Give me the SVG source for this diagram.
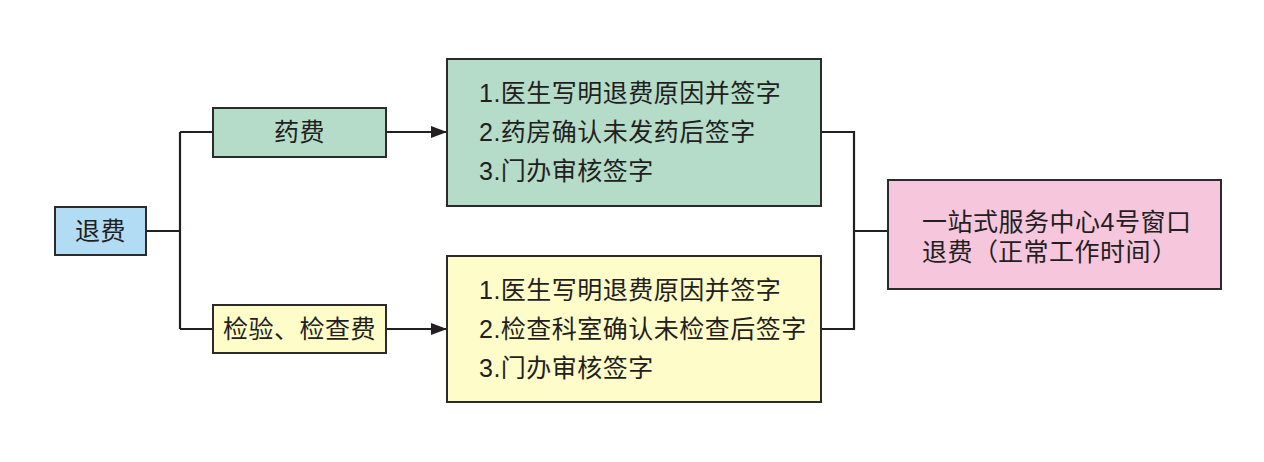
<svg xmlns="http://www.w3.org/2000/svg" width="1264" height="462" viewBox="0 0 1264 462">
<style>
.box{stroke:#2b2b2b;stroke-width:2}
.t{font-family:"Liberation Sans","Noto Sans CJK SC",sans-serif;font-size:25px;fill:#231f20;letter-spacing:0.5px}
.c{text-anchor:middle}
.ln{fill:none;stroke:#231f20;stroke-width:2.2}
</style>
<defs>
<marker id="ah" markerWidth="16" markerHeight="12" refX="16" refY="6" orient="auto" markerUnits="userSpaceOnUse">
<path d="M0,0 L16,6 L0,12 Z" fill="#231f20"/>
</marker>
</defs>
<rect width="1264" height="462" fill="#ffffff"/>
<g id="connectors">
<path class="ln" d="M146,231 H180 M180,132 V329 M180,132 H213 M180,329 H213"/>
<path class="ln" d="M386,132 H447" marker-end="url(#ah)"/>
<path class="ln" d="M386,329 H447" marker-end="url(#ah)"/>
<path class="ln" d="M821,132 H854 V329 H821 M854,231 H888"/>
</g>
<g id="n-tuifei">
<rect class="box" x="55" y="207" width="91" height="48" fill="#B2DCF3"/>
<text class="t c" x="100.5" y="240">退费</text>
</g>
<g id="n-yaofei">
<rect class="box" x="213" y="108" width="173" height="49" fill="#B5DCC8"/>
<text class="t c" x="299.5" y="141">药费</text>
</g>
<g id="n-jianyan">
<rect class="box" x="213" y="305" width="173" height="48" fill="#FEFCC8"/>
<text class="t c" x="299.5" y="338">检验、检查费</text>
</g>
<g id="n-yao-steps">
<rect class="box" x="447" y="59" width="374" height="147" fill="#B5DCC8"/>
<text class="t" x="479" y="102">1.医生写明退费原因并签字</text>
<text class="t" x="479" y="141">2.药房确认未发药后签字</text>
<text class="t" x="479" y="180">3.门办审核签字</text>
</g>
<g id="n-jian-steps">
<rect class="box" x="447" y="256" width="374" height="146" fill="#FEFCC8"/>
<text class="t" x="479" y="299">1.医生写明退费原因并签字</text>
<text class="t" x="479" y="338">2.检查科室确认未检查后签字</text>
<text class="t" x="479" y="377">3.门办审核签字</text>
</g>
<g id="n-window">
<rect class="box" x="888" y="180" width="333" height="109" fill="#F6C6DC"/>
<text class="t" x="922" y="231">一站式服务中心4号窗口</text>
<text class="t" y="261"><tspan x="922">退费</tspan><tspan x="973">（</tspan><tspan x="998">正常工作时间</tspan><tspan x="1152">）</tspan></text>
</g>
</svg>
